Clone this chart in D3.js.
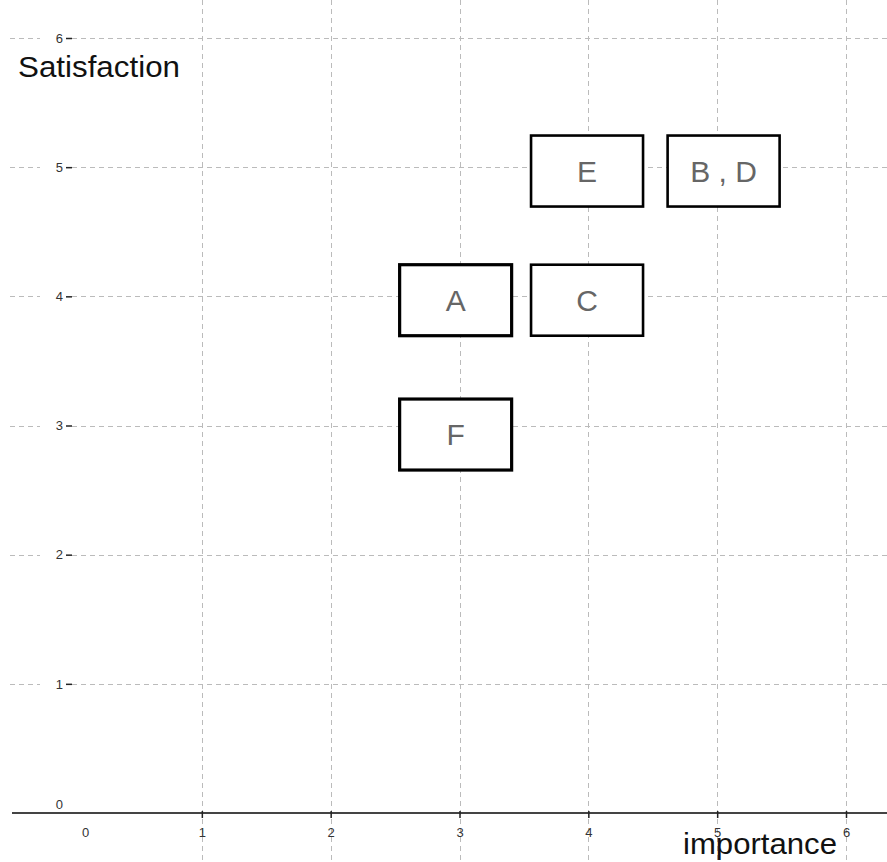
<!DOCTYPE html>
<html>
<head>
<meta charset="utf-8">
<script src="https://cdn.jsdelivr.net/npm/d3@7"></script>
<style>
  body { margin: 0; background: #fff; }
  svg { display: block; font-family: "Liberation Sans", Arial, sans-serif; }
</style>
</head>
<body>
<svg id="chart" width="887" height="862"></svg>
<script>
// items on the importance / satisfaction grid
const labels = ['A', 'C', 'E', 'B , D', 'F'];
const importance = [2.97, 3.99, 3.99, 5.05, 2.97];
const satisfaction = [3.97, 3.97, 4.97, 4.97, 2.93];
const heavy = [true, false, false, false, true];
const xTicks = [0, 1, 2, 3, 4, 5, 6];
const yTicks = [0, 1, 2, 3, 4, 5, 6];

const W = 887, H = 862;
const svg = d3.select('#chart');

const x = d3.scaleLinear().domain([0, 6]).range([73, 846]);
const y = d3.scaleLinear().domain([0, 6]).range([813, 38]);

// grid
const grid = svg.append('g').attr('stroke', '#bbb').attr('stroke-dasharray', '5,4').attr('stroke-width', 1);
grid.selectAll('.vg').data(xTicks.filter(d => d > 0)).join('line')
  .attr('x1', d => Math.round(x(d)) + 0.5).attr('x2', d => Math.round(x(d)) + 0.5)
  .attr('y1', 0).attr('y2', H);
grid.selectAll('.hg').data(yTicks.filter(d => d > 0)).join('line')
  .attr('x1', 10).attr('x2', 40)
  .attr('y1', d => Math.round(y(d)) + 0.5).attr('y2', d => Math.round(y(d)) + 0.5);
grid.selectAll('.hg2').data(yTicks.filter(d => d > 0)).join('line')
  .attr('x1', 72).attr('x2', W)
  .attr('y1', d => Math.round(y(d)) + 0.5).attr('y2', d => Math.round(y(d)) + 0.5);

// y axis ticks + labels
const yAxis = svg.append('g').attr('transform', 'translate(72,0)')
  .call(d3.axisLeft(y).tickValues(yTicks).tickSize(6).tickPadding(3).tickFormat(d3.format('d')));
yAxis.select('.domain').remove();
yAxis.selectAll('.tick line').attr('stroke', '#222').attr('stroke-width', 1.5);
yAxis.selectAll('.tick text').attr('font-size', 13).attr('fill', '#333')
  .attr('font-family', '"Liberation Sans", Arial, sans-serif');
yAxis.selectAll('.tick').filter(d => d === 0).select('line').remove();
yAxis.selectAll('.tick').filter(d => d === 0).select('text').attr('dy', '-0.35em').attr('x', -9);

// x axis
svg.append('line').attr('x1', 12).attr('x2', W).attr('y1', 813).attr('y2', 813)
  .attr('stroke', '#444').attr('stroke-width', 2);
const xAxis = svg.append('g').attr('transform', 'translate(0,813)')
  .call(d3.axisBottom(x).tickValues(xTicks).tickSize(5).tickPadding(10).tickFormat(d3.format('d')));
xAxis.select('.domain').remove();
xAxis.selectAll('.tick line').attr('stroke', '#222').attr('stroke-width', 1.5).attr('y1', -2);
xAxis.selectAll('.tick text').attr('font-size', 13).attr('fill', '#333')
  .attr('font-family', '"Liberation Sans", Arial, sans-serif');
xAxis.selectAll('.tick').filter(d => d === 0).select('line').remove();
xAxis.selectAll('.tick').filter(d => d === 0).select('text').attr('x', 12);

// axis titles
svg.append('text').attr('x', 18).attr('y', 77).attr('font-size', 29).attr('fill', '#111')
  .attr('textLength', 162).attr('lengthAdjust', 'spacingAndGlyphs')
  .text('Satisfaction');
svg.append('text').attr('x', 683).attr('y', 854).attr('font-size', 29).attr('fill', '#111')
  .attr('textLength', 154).attr('lengthAdjust', 'spacingAndGlyphs')
  .text('importance');

// boxes
const items = labels.map((l, i) => ({ l, imp: importance[i], sat: satisfaction[i], heavy: heavy[i] }));
const bw = 112, bh = 71;
const box = svg.append('g').selectAll('g').data(items).join('g')
  .attr('transform', d => `translate(${x(d.imp)},${y(d.sat)})`);
box.append('rect')
  .attr('x', -bw / 2).attr('y', -bh / 2).attr('width', bw).attr('height', bh)
  .attr('fill', '#fff').attr('stroke', '#000')
  .attr('stroke-width', d => d.heavy ? 3.2 : 2.6);
box.append('text').attr('text-anchor', 'middle').attr('dy', '0.36em')
  .attr('font-size', 30).attr('fill', '#666')
  .attr('xml:space', 'preserve')
  .text(d => d.l);
</script>
</body>
</html>
